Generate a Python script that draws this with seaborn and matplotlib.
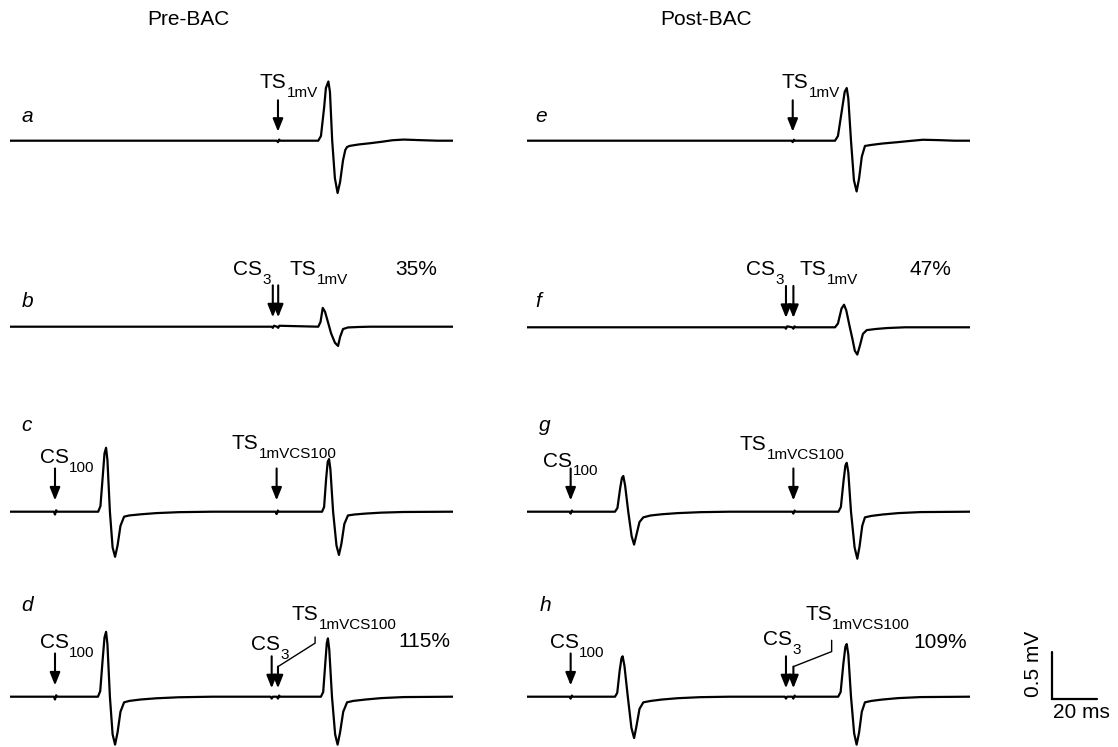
import numpy as np
import pandas as pd
import matplotlib
matplotlib.use("Agg")
import matplotlib.pyplot as plt
import seaborn as sns

sns.set_theme(style="white")
plt.rcParams['font.family'] = ['Liberation Sans', 'DejaVu Sans']
plt.rcParams['text.color'] = 'black'

# ---------------- data (time in ms, voltage in mV) ----------------
trace_a_t = [0, 60, 118.6, 119.1, 119.6, 120.1, 137.0, 138.2, 139.6, 140.4, 141.5, 142.2, 143.2, 144.4, 145.6, 146.7, 148.0, 149.0, 149.8,
             151.0, 155.0, 160.0, 165.0, 170.0, 175.0, 182.0, 190.0, 197.0]
trace_a_v = [0, 0, 0, -0.015, 0.012, 0, 0, 0.05, 0.35, 0.56, 0.63, 0.52, 0.0, -0.40, -0.556, -0.44, -0.21, -0.10, -0.067,
             -0.055, -0.04, -0.027, -0.012, 0.005, 0.012, 0.006, 0, 0]

trace_b_t = [0, 116.3, 116.8, 117.3, 118.7, 119.2, 119.7, 137.0, 138.0, 139.0, 140.0, 141.3, 142.7, 144.4, 145.8, 146.7, 148.0,
             150.2, 155.0, 160.0, 197.0]
trace_b_v = [0, 0, -0.012, 0.01, 0, -0.012, 0.01, 0, 0.05, 0.20, 0.16, 0.05, -0.07, -0.17, -0.205, -0.11, -0.025,
             -0.008, -0.003, 0, 0]

trace_c_t = [0, 19.5, 20.0, 20.5, 21.0, 39.2, 40.2, 41.3, 42.0, 42.7, 43.3, 44.4, 45.6, 46.7, 47.8, 49.1, 50.7, 53.0, 58.0, 65.0, 75.0, 90.0,
             118.0, 118.5, 119.0, 119.5, 138.7, 139.6, 140.5, 141.2, 141.8, 142.4, 143.6, 145.1, 146.2, 147.3, 148.6, 150.2, 153.0,
             158.0, 165.0, 175.0, 197.0]
trace_c_v = [0, 0, -0.03, 0.015, 0, 0, 0.06, 0.40, 0.62, 0.68, 0.55, 0.0, -0.38, -0.48, -0.36, -0.15, -0.053, -0.04, -0.028, -0.015, -0.005, 0,
             0, -0.025, 0.012, 0, 0, 0.05, 0.35, 0.53, 0.56, 0.45, 0.0, -0.36, -0.46, -0.34, -0.13, -0.04, -0.03,
             -0.02, -0.01, -0.003, 0]

trace_d_t = [0, 19.5, 20.0, 20.5, 21.0, 39.1, 40.1, 41.2, 42.0, 42.7, 43.3, 44.4, 45.6, 46.7, 47.8, 49.1, 50.7, 53.0, 58.0, 65.0, 75.0, 90.0,
             115.8, 116.3, 116.8, 118.6, 119.1, 119.6, 120.1,
             138.2, 139.2, 140.2, 140.8, 141.3, 141.9, 143.1, 144.5, 145.6, 146.7, 148.1, 149.8, 152.5, 158.0, 165.0, 175.0, 197.0]
trace_d_v = [0, 0, -0.03, 0.015, 0, 0, 0.06, 0.40, 0.63, 0.69, 0.56, 0.0, -0.40, -0.51, -0.38, -0.16, -0.06, -0.045, -0.03, -0.017, -0.006, 0,
             0, -0.02, 0, 0, -0.02, 0.012, 0,
             0, 0.05, 0.38, 0.57, 0.62, 0.50, 0.0, -0.40, -0.51, -0.38, -0.16, -0.06, -0.045, -0.03, -0.015, -0.004, 0]

trace_e_t = [0, 117.6, 118.1, 118.6, 119.1, 136.9, 138.2, 139.8, 141.2, 142.1, 142.8, 144.0, 145.3, 146.5, 147.6, 148.8, 150.2, 153.0,
             158.0, 165.0, 170.0, 176.0, 183.0, 190.0, 197.0]
trace_e_v = [0, 0, -0.015, 0.01, 0, 0, 0.05, 0.30, 0.52, 0.56, 0.45, 0.0, -0.42, -0.54, -0.40, -0.17, -0.056, -0.045,
             -0.03, -0.015, -0.003, 0.01, 0.006, 0, 0]

trace_f_t = [0, 114.6, 115.1, 115.6, 117.9, 118.4, 118.9, 119.4, 136.9, 138.2, 139.8, 140.9, 141.9, 143.3, 144.6, 145.7, 146.8, 147.9,
             149.3, 151.0, 155.0, 160.0, 168.0, 197.0]
trace_f_v = [0, 0, -0.015, 0.01, 0, -0.015, 0.01, 0, 0, 0.04, 0.20, 0.24, 0.18, 0.02, -0.12, -0.25, -0.29, -0.20,
             -0.07, -0.03, -0.018, -0.008, 0, 0]

trace_g_t = [0, 18.9, 19.4, 19.9, 20.4, 39.1, 40.2, 41.4, 42.2, 42.8, 43.6, 45.0, 46.5, 47.6, 48.6, 50.0, 51.7, 55.0, 60.0, 67.0, 77.0, 90.0,
             117.9, 118.4, 118.9, 119.4, 138.4, 139.5, 140.7, 141.5, 142.1, 142.8, 144.0, 145.6, 146.8, 147.8, 149.0, 150.2, 153.0,
             158.0, 165.0, 175.0, 197.0]
trace_g_v = [0, 0, -0.02, 0.012, 0, 0, 0.04, 0.25, 0.36, 0.38, 0.28, 0.0, -0.26, -0.35, -0.25, -0.11, -0.06, -0.04, -0.027, -0.015, -0.005, 0,
             0, -0.02, 0.012, 0, 0, 0.05, 0.33, 0.49, 0.52, 0.42, 0.0, -0.38, -0.50, -0.37, -0.15, -0.06, -0.045,
             -0.03, -0.015, -0.004, 0]

trace_h_t = [0, 18.9, 19.4, 19.9, 20.4, 39.1, 40.1, 41.2, 42.0, 42.5, 43.3, 44.8, 46.4, 47.6, 48.6, 50.0, 51.7, 55.0, 60.0, 67.0, 77.0, 90.0,
             114.6, 115.1, 115.6, 117.9, 118.4, 118.9, 119.4,
             138.3, 139.4, 140.6, 141.5, 142.1, 142.8, 144.0, 145.4, 146.5, 147.6, 148.8, 150.2, 153.0, 158.0, 165.0, 175.0, 197.0]
trace_h_v = [0, 0, -0.02, 0.012, 0, 0, 0.04, 0.28, 0.41, 0.43, 0.33, 0.0, -0.33, -0.44, -0.32, -0.13, -0.06, -0.045, -0.03, -0.016, -0.005, 0,
             0, -0.02, 0, 0, -0.02, 0.012, 0,
             0, 0.05, 0.35, 0.53, 0.56, 0.45, 0.0, -0.39, -0.51, -0.38, -0.16, -0.06, -0.045, -0.03, -0.015, -0.004, 0]

# stimulus times (ms) marked by arrows
stim_a = [119.1]
stim_b = [116.8, 119.2]
stim_c = [20.0, 118.5]
stim_d = [20.0, 116.3, 119.1]
stim_e = [118.1]
stim_f = [115.1, 118.4]
stim_g = [19.4, 118.4]
stim_h = [19.4, 115.1, 118.4]

# percentages (test response relative to control)
pct_b = "35%"
pct_d = "115%"
pct_f = "47%"
pct_h = "109%"

scalebar_ms = 20
scalebar_mv = 0.5

# ---------------- layout ----------------
W, H, DPI = 1118, 747, 100
PX_MS, PX_MV = 2.25, 94.0
TMAX = 197.0
VMIN, VMAX = -0.65, 0.8
FS = 15
SUBFS = 11

fig = plt.figure(figsize=(W / DPI, H / DPI), dpi=DPI)
renderer = fig.canvas.get_renderer()

panels = {
    'a': (10, 140.7, trace_a_t, trace_a_v),
    'b': (10, 326.7, trace_b_t, trace_b_v),
    'c': (10, 511.7, trace_c_t, trace_c_v),
    'd': (10, 696.7, trace_d_t, trace_d_v),
    'e': (527, 140.7, trace_e_t, trace_e_v),
    'f': (527, 327.3, trace_f_t, trace_f_v),
    'g': (527, 511.7, trace_g_t, trace_g_v),
    'h': (527, 696.7, trace_h_t, trace_h_v),
}

frames = []
for name, (_, _, tt, vv) in panels.items():
    frames.append(pd.DataFrame({'panel': name, 't': tt, 'v': vv}))
df = pd.concat(frames, ignore_index=True)

axes = {}
for name, (x0, base, _, _) in panels.items():
    bottom_px = base - VMIN * PX_MV
    ax = fig.add_axes([x0 / W, (H - bottom_px) / H, TMAX * PX_MS / W, (VMAX - VMIN) * PX_MV / H])
    sns.lineplot(data=df[df['panel'] == name], x='t', y='v', ax=ax, color='black',
                 lw=1.6, estimator=None, sort=False)
    ax.set_xlim(0, TMAX)
    ax.set_ylim(VMIN, VMAX)
    ax.axis('off')
    axes[name] = ax

def arrow(ax, t, top, tip):
    ax.annotate("", xy=(t, tip), xytext=(t, top),
                arrowprops=dict(arrowstyle='-|>,head_length=0.55,head_width=0.22',
                                color='black', lw=1.5, mutation_scale=14,
                                shrinkA=0, shrinkB=0),
                annotation_clip=False)

def stim_label(ax, t, v, main, sub, drop=6.3):
    txt = ax.text(t, v, main, fontsize=FS, ha='left', va='baseline', color='black')
    w = txt.get_window_extent(renderer=renderer).width
    ax.annotate(sub, xy=(t, v), xytext=(w * 72 / DPI + 0.2, -drop), textcoords='offset points',
                fontsize=SUBFS, ha='left', va='baseline', annotation_clip=False, color='black')

def letter(ax, t, v, s):
    ax.text(t, v, s, fontsize=FS, style='italic', ha='left', va='center')

# ---- panel letters
letter(axes['a'], 5.0, 0.255, 'a')
letter(axes['b'], 5.0, 0.27, 'b')
letter(axes['c'], 5.0, 0.92, 'c')
letter(axes['d'], 5.0, 0.975, 'd')
letter(axes['e'], 3.6, 0.255, 'e')
letter(axes['f'], 3.6, 0.27, 'f')
letter(axes['g'], 5.5, 0.92, 'g')
letter(axes['h'], 5.5, 0.975, 'h')

# ---- arrows
arrow(axes['a'], stim_a[0], 0.43, 0.096)
for s in stim_b:
    arrow(axes['b'], s, 0.44, 0.10)
for s in stim_c:
    arrow(axes['c'], s, 0.46, 0.12)
arrow(axes['d'], stim_d[0], 0.46, 0.12)
arrow(axes['d'], stim_d[1], 0.43, 0.09)
arrow(axes['d'], stim_d[2], 0.32, 0.09)
arrow(axes['e'], stim_e[0], 0.43, 0.096)
for s in stim_f:
    arrow(axes['f'], s, 0.44, 0.10)
for s in stim_g:
    arrow(axes['g'], s, 0.46, 0.12)
arrow(axes['h'], stim_h[0], 0.46, 0.12)
arrow(axes['h'], stim_h[1], 0.43, 0.09)
arrow(axes['h'], stim_h[2], 0.32, 0.09)

# leader lines from TS arrow to its label in d and h
axes['d'].plot([stim_d[2], 135.6, 135.6], [0.32, 0.57, 0.635], color='black', lw=1.0, clip_on=False)
axes['h'].plot([stim_h[2], 135.4, 135.4], [0.32, 0.48, 0.60], color='black', lw=1.0, clip_on=False)

# ---- stimulus labels
stim_label(axes['a'], 111.1, 0.557, 'TS', '1mV')
stim_label(axes['b'], 99.2, 0.55, 'CS', '3')
stim_label(axes['b'], 124.4, 0.55, 'TS', '1mV')
stim_label(axes['c'], 13.3, 0.515, 'CS', '100')
stim_label(axes['c'], 98.5, 0.667, 'TS', '1mVCS100')
stim_label(axes['d'], 13.3, 0.518, 'CS', '100')
stim_label(axes['d'], 107.1, 0.497, 'CS', '3')
stim_label(axes['d'], 125.3, 0.816, 'TS', '1mVCS100')

stim_label(axes['e'], 113.2, 0.557, 'TS', '1mV')
stim_label(axes['f'], 97.3, 0.556, 'CS', '3')
stim_label(axes['f'], 121.3, 0.556, 'TS', '1mV')
stim_label(axes['g'], 7.2, 0.479, 'CS', '100')
stim_label(axes['g'], 94.4, 0.656, 'TS', '1mVCS100')
stim_label(axes['h'], 10.2, 0.518, 'CS', '100')
stim_label(axes['h'], 104.8, 0.55, 'CS', '3')
stim_label(axes['h'], 123.6, 0.816, 'TS', '1mVCS100')

# ---- percentages
axes['b'].text(171.1, 0.55, pct_b, fontsize=FS, ha='left', va='baseline')
axes['d'].text(172.4, 0.53, pct_d, fontsize=FS, ha='left', va='baseline')
axes['f'].text(170.2, 0.556, pct_f, fontsize=FS, ha='left', va='baseline')
axes['h'].text(171.6, 0.518, pct_h, fontsize=FS, ha='left', va='baseline')

# ---- scale bar (drawn in panel h's data units)
axh = axes['h']
sb_t0, sb_v0 = 233.3, -0.024
axh.plot([sb_t0, sb_t0, sb_t0 + scalebar_ms], [sb_v0 + scalebar_mv, sb_v0, sb_v0],
         color='black', lw=1.6, clip_on=False, solid_joinstyle='miter')
axh.text(224.9, 0.353, '0.5 mV', rotation=90, fontsize=FS, ha='center', va='center')
axh.text(246.2, -0.163, '20 ms', fontsize=FS, ha='center', va='center')

# ---- column titles
fig.text(147 / W, 1 - 25 / H, 'Pre-BAC', fontsize=FS, ha='left', va='baseline')
fig.text(660 / W, 1 - 25 / H, 'Post-BAC', fontsize=FS, ha='left', va='baseline')

fig.savefig('out.png', dpi=DPI)
